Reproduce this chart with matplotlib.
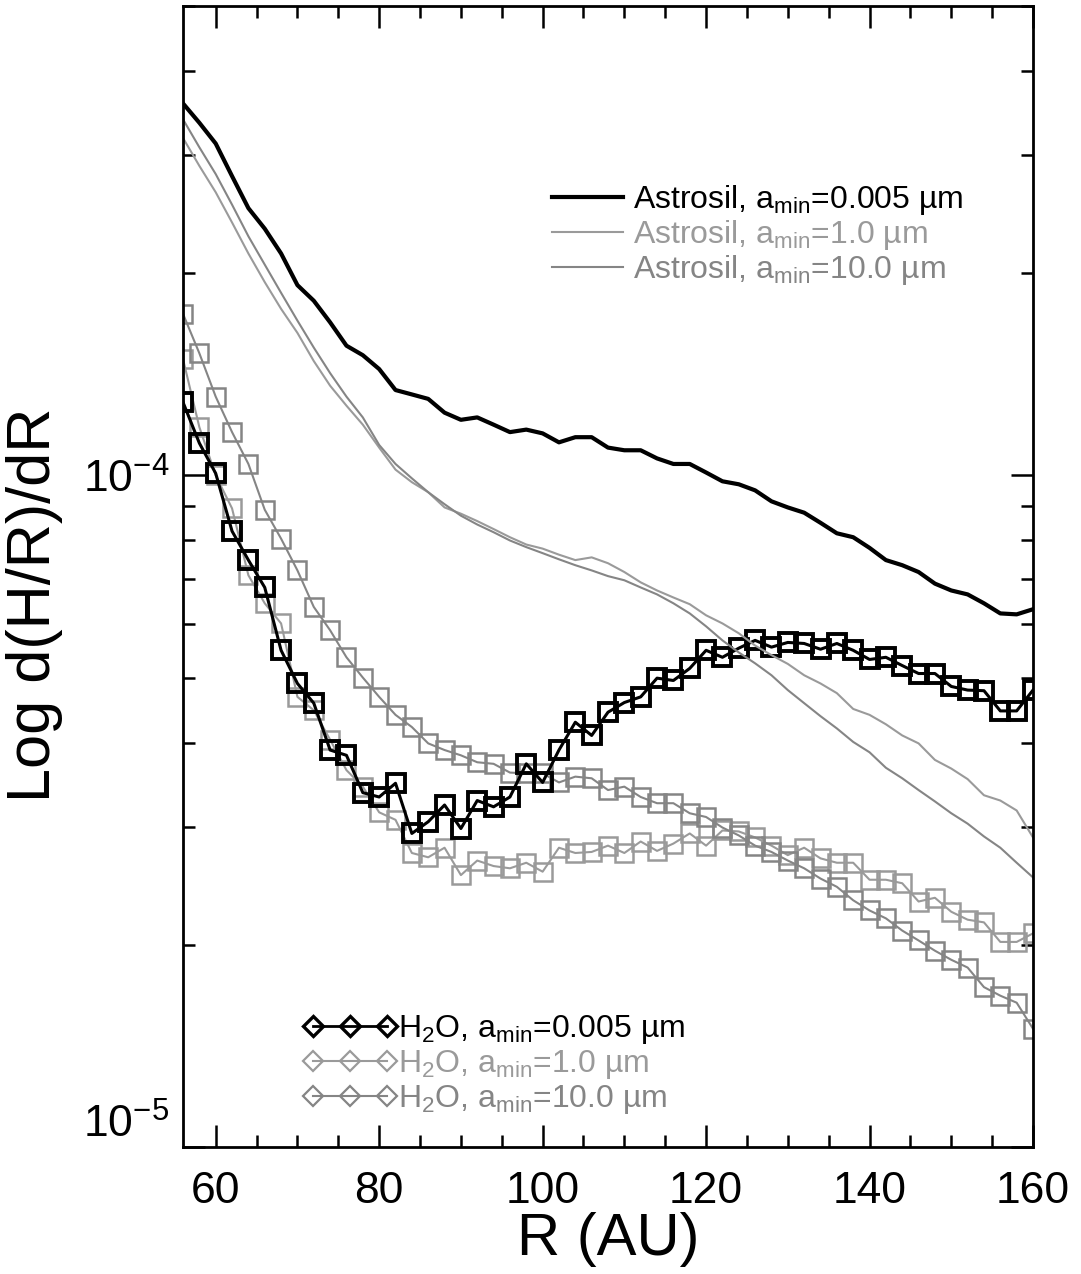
import numpy as np
import matplotlib
matplotlib.use("Agg")
import matplotlib.pyplot as plt
from matplotlib.lines import Line2D
from matplotlib.ticker import MultipleLocator, LogLocator, NullFormatter

plt.rcParams['font.family'] = ['Liberation Sans', 'DejaVu Sans']
plt.rcParams['mathtext.fontset'] = 'custom'
plt.rcParams['mathtext.rm'] = 'Liberation Sans'
plt.rcParams['mathtext.it'] = 'Liberation Sans'
plt.rcParams['mathtext.default'] = 'regular'
plt.rcParams['axes.unicode_minus'] = False

# --- Data ---
R = [56, 58, 60, 62, 64, 66, 68, 70, 72, 74, 76, 78, 80, 82, 84, 86, 88, 90,
     92, 94, 96, 98, 100, 102, 104, 106, 108, 110, 112, 114, 116, 118, 120,
     122, 124, 126, 128, 130, 132, 134, 136, 138, 140, 142, 144, 146, 148,
     150, 152, 154, 156, 158, 160]

astro_005 = [3.58e-4, 3.35e-4, 3.12e-4, 2.79e-4, 2.50e-4, 2.33e-4, 2.14e-4, 1.92e-4, 1.82e-4, 1.69e-4,
             1.56e-4, 1.51e-4, 1.44e-4, 1.34e-4, 1.32e-4, 1.30e-4, 1.24e-4, 1.21e-4, 1.22e-4, 1.19e-4,
             1.16e-4, 1.17e-4, 1.155e-4, 1.12e-4, 1.14e-4, 1.14e-4, 1.10e-4, 1.09e-4, 1.09e-4, 1.06e-4,
             1.04e-4, 1.04e-4, 1.01e-4, 9.8e-5, 9.7e-5, 9.5e-5, 9.15e-5, 8.96e-5, 8.8e-5, 8.5e-5,
             8.2e-5, 8.09e-5, 7.8e-5, 7.48e-5, 7.35e-5, 7.18e-5, 6.9e-5, 6.74e-5, 6.65e-5, 6.45e-5,
             6.23e-5, 6.21e-5, 6.32e-5]

astro_1 = [3.18e-4, 2.89e-4, 2.64e-4, 2.38e-4, 2.14e-4, 1.94e-4, 1.77e-4, 1.63e-4, 1.48e-4, 1.36e-4,
           1.27e-4, 1.19e-4, 1.10e-4, 1.02e-4, 9.77e-5, 9.44e-5, 8.96e-5, 8.77e-5, 8.55e-5, 8.32e-5,
           8.09e-5, 7.89e-5, 7.78e-5, 7.62e-5, 7.48e-5, 7.55e-5, 7.40e-5, 7.18e-5, 6.93e-5, 6.74e-5,
           6.58e-5, 6.43e-5, 6.19e-5, 6.02e-5, 5.82e-5, 5.58e-5, 5.40e-5, 5.24e-5, 5.04e-5, 4.90e-5,
           4.74e-5, 4.49e-5, 4.40e-5, 4.26e-5, 4.10e-5, 3.99e-5, 3.77e-5, 3.66e-5, 3.53e-5, 3.34e-5,
           3.28e-5, 3.17e-5, 2.89e-5]

astro_10 = [3.39e-4, 3.08e-4, 2.81e-4, 2.53e-4, 2.27e-4, 2.06e-4, 1.87e-4, 1.70e-4, 1.55e-4, 1.42e-4,
            1.31e-4, 1.22e-4, 1.11e-4, 1.04e-4, 9.9e-5, 9.44e-5, 9.06e-5, 8.71e-5, 8.45e-5, 8.23e-5,
            8.0e-5, 7.82e-5, 7.66e-5, 7.50e-5, 7.35e-5, 7.22e-5, 7.08e-5, 6.98e-5, 6.81e-5, 6.65e-5,
            6.45e-5, 6.23e-5, 5.96e-5, 5.68e-5, 5.45e-5, 5.25e-5, 5.04e-5, 4.79e-5, 4.58e-5, 4.38e-5,
            4.2e-5, 4.01e-5, 3.87e-5, 3.67e-5, 3.54e-5, 3.40e-5, 3.27e-5, 3.14e-5, 3.03e-5, 2.90e-5,
            2.79e-5, 2.65e-5, 2.52e-5]

h2o_005 = [1.285e-4, 1.117e-4, 1.007e-4, 8.26e-5, 7.48e-5, 6.81e-5, 5.49e-5, 4.90e-5, 4.58e-5, 3.90e-5,
           3.83e-5, 3.37e-5, 3.32e-5, 3.48e-5, 2.93e-5, 3.05e-5, 3.23e-5, 2.98e-5, 3.28e-5, 3.21e-5,
           3.32e-5, 3.72e-5, 3.49e-5, 3.90e-5, 4.29e-5, 4.10e-5, 4.44e-5, 4.59e-5, 4.68e-5, 4.99e-5,
           4.95e-5, 5.16e-5, 5.49e-5, 5.36e-5, 5.53e-5, 5.68e-5, 5.55e-5, 5.64e-5, 5.62e-5, 5.51e-5,
           5.62e-5, 5.49e-5, 5.32e-5, 5.36e-5, 5.21e-5, 5.07e-5, 5.07e-5, 4.85e-5, 4.79e-5, 4.78e-5,
           4.46e-5, 4.46e-5, 4.79e-5]

h2o_1 = [1.49e-4, 1.18e-4, 1.00e-4, 8.93e-5, 7.10e-5, 6.45e-5, 6.02e-5, 4.68e-5, 4.47e-5, 4.04e-5,
         3.64e-5, 3.44e-5, 3.15e-5, 3.07e-5, 2.74e-5, 2.70e-5, 2.79e-5, 2.54e-5, 2.67e-5, 2.62e-5,
         2.60e-5, 2.65e-5, 2.57e-5, 2.79e-5, 2.74e-5, 2.75e-5, 2.81e-5, 2.74e-5, 2.85e-5, 2.76e-5,
         2.83e-5, 2.93e-5, 2.81e-5, 2.96e-5, 2.95e-5, 2.89e-5, 2.81e-5, 2.72e-5, 2.79e-5, 2.69e-5,
         2.65e-5, 2.65e-5, 2.50e-5, 2.50e-5, 2.47e-5, 2.32e-5, 2.35e-5, 2.24e-5, 2.18e-5, 2.16e-5,
         2.02e-5, 2.02e-5, 2.08e-5]

h2o_10 = [1.74e-4, 1.52e-4, 1.31e-4, 1.16e-4, 1.04e-4, 8.89e-5, 8.05e-5, 7.22e-5, 6.37e-5, 5.88e-5,
          5.36e-5, 5.0e-5, 4.68e-5, 4.40e-5, 4.22e-5, 3.99e-5, 3.90e-5, 3.83e-5, 3.74e-5, 3.72e-5,
          3.61e-5, 3.60e-5, 3.60e-5, 3.49e-5, 3.56e-5, 3.54e-5, 3.40e-5, 3.44e-5, 3.32e-5, 3.25e-5,
          3.25e-5, 3.14e-5, 3.10e-5, 2.99e-5, 2.91e-5, 2.81e-5, 2.75e-5, 2.67e-5, 2.60e-5, 2.51e-5,
          2.44e-5, 2.33e-5, 2.25e-5, 2.19e-5, 2.10e-5, 2.03e-5, 1.96e-5, 1.90e-5, 1.85e-5, 1.73e-5,
          1.68e-5, 1.64e-5, 1.50e-5]

astro_labels = [r'Astrosil, a$_{min}$=0.005 µm',
                r'Astrosil, a$_{min}$=1.0 µm',
                r'Astrosil, a$_{min}$=10.0 µm']
h2o_labels = [r'H$_2$O, a$_{min}$=0.005 µm',
              r'H$_2$O, a$_{min}$=1.0 µm',
              r'H$_2$O, a$_{min}$=10.0 µm']

black = '#000000'
gray1 = '#9a9a9a'   # a_min = 1.0
gray10 = '#858585'  # a_min = 10.0

# --- Plot ---
fig = plt.figure(figsize=(10.81, 12.74), dpi=100)
ax = fig.add_axes([0.1693, 0.0997, 0.7863, 0.8956])

sq = dict(marker='s', markersize=13, markerfacecolor='none')
ax.plot(R, h2o_1, color=gray1, lw=1.5, mew=1.8, mec=gray1, **sq)
ax.plot(R, h2o_10, color=gray10, lw=1.5, mew=1.8, mec=gray10, **sq)
ax.plot(R, h2o_005, color=black, lw=2.2, mew=2.8, mec=black, **sq)

ax.plot(R, astro_1, color=gray1, lw=1.5)
ax.plot(R, astro_10, color=gray10, lw=1.5)
ax.plot(R, astro_005, color=black, lw=3.0)

ax.set_yscale('log')
ax.set_xlim(56, 160)
ax.set_ylim(1e-5, 5e-4)

ax.xaxis.set_major_locator(MultipleLocator(20))
ax.xaxis.set_minor_locator(MultipleLocator(5))
ax.yaxis.set_major_locator(LogLocator(base=10))
ax.yaxis.set_minor_locator(LogLocator(base=10, subs=np.arange(2, 10)))
ax.yaxis.set_minor_formatter(NullFormatter())

ax.tick_params(which='both', direction='in', top=True, right=True, width=1.8)
ax.tick_params(which='major', length=16, labelsize=32)
ax.tick_params(which='minor', length=8.5)
ax.tick_params(axis='x', which='major', pad=17)
ax.tick_params(axis='y', which='major', pad=10)
for s in ax.spines.values():
    s.set_linewidth(2.0)

ax.set_xlabel('R (AU)', fontsize=43, labelpad=0)
ax.set_ylabel('Log d(H/R)/dR', fontsize=44)
ax.yaxis.set_label_coords(-0.141, 0.475)

# legends
fs_leg = 23
astro_handles = [Line2D([], [], color=black, lw=3.0),
                 Line2D([], [], color=gray1, lw=1.5),
                 Line2D([], [], color=gray10, lw=1.5)]
leg1 = ax.legend(astro_handles, astro_labels, loc='upper left',
                 bbox_to_anchor=(0.434, 0.845), frameon=False, fontsize=fs_leg,
                 handlelength=2.22, handletextpad=0.31, labelspacing=0.03,
                 borderpad=0, borderaxespad=0)
for t, c in zip(leg1.get_texts(), [black, gray1, gray10]):
    t.set_color(c)
ax.add_artist(leg1)

dm = dict(marker='D', markersize=10, markerfacecolor='none')
h2o_handles = [Line2D([], [], color=black, lw=2.0, mew=2.4, mec=black, **dm),
               Line2D([], [], color=gray1, lw=1.5, mew=1.6, mec=gray1, **dm),
               Line2D([], [], color=gray10, lw=1.5, mew=1.6, mec=gray10, **dm)]
leg2 = ax.legend(h2o_handles, h2o_labels, loc='upper left', numpoints=3,
                 bbox_to_anchor=(0.1416, 0.1174), frameon=False, fontsize=fs_leg,
                 handlelength=2.92, handletextpad=0.05, labelspacing=0.06,
                 borderpad=0, borderaxespad=0)
for t, c in zip(leg2.get_texts(), [black, gray1, gray10]):
    t.set_color(c)

# the lowest y label sits above the corner, as in the original
fig.canvas.draw()
for lab in ax.get_yticklabels():
    if '{-5}' in lab.get_text():
        lab.set_verticalalignment('bottom')

fig.savefig('out.png', dpi=100)
